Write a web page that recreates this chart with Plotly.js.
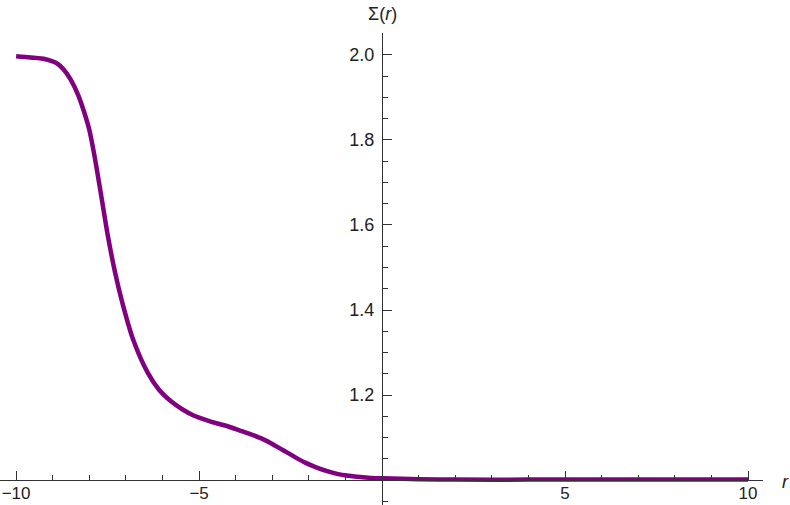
<!DOCTYPE html>
<html>
<head>
<meta charset="utf-8">
<script src="https://cdn.plot.ly/plotly-3.0.1.min.js"></script>
<style>
  body { margin: 0; padding: 0; background: #fff; }
  #plot { width: 790px; height: 505px; }
</style>
</head>
<body>
<div id="plot"></div>
<script>
// values
var r = [-10, -9.6, -9.2, -8.9, -8.7, -8.5, -8.3, -8.15, -8.0, -7.9, -7.8, -7.65,
         -7.5, -7.3, -7.1, -6.8, -6.4, -6.1, -5.75, -5.45, -5.15, -4.8, -4.5,
         -4.2, -3.9, -3.6, -3.3, -3.0, -2.7, -2.4, -2.1, -1.8, -1.5, -1.2,
         -0.9, -0.6, -0.3, 0, 1, 2, 4, 6, 8, 10];
var sigma = [1.997, 1.994, 1.990, 1.981, 1.966, 1.941, 1.905, 1.868, 1.824, 1.782, 1.734, 1.656,
             1.578, 1.490, 1.418, 1.330, 1.252, 1.213, 1.184, 1.166, 1.152, 1.141, 1.133,
             1.126, 1.117, 1.108, 1.098, 1.085, 1.070, 1.055, 1.041, 1.030, 1.021, 1.014,
             1.010, 1.007, 1.005, 1.004, 1.002, 1.001, 1.001, 1.001, 1.001, 1.001];

var xTicks = [-10, -5, 5, 10];
var yTicks = [1.2, 1.4, 1.6, 1.8, 2.0];
var xTickText = ['\u221210', '\u22125', '5', '10'];
var yTickText = ['1.2', '1.4', '1.6', '1.8', '2.0'];

var W = 790, H = 505;
var axisCol = '#333';
var font = {family: 'Liberation Sans, Arial, sans-serif', size: 18, color: '#222'};

var trace = {
    x: r,
    y: sigma,
    type: 'scatter',
    mode: 'lines',
    line: {color: 'rgb(128,0,128)', width: 4.5, shape: 'spline', smoothing: 0.8},
    hoverinfo: 'none'
};

var layout = {
    width: W,
    height: H,
    margin: {l: 0, r: 0, t: 0, b: 0},
    paper_bgcolor: '#fff',
    plot_bgcolor: 'rgba(0,0,0,0)',
    showlegend: false,
    font: font,
    xaxis: {
        domain: [0, 763 / W],
        range: [-10.44, 10.41],
        anchor: 'free',
        position: 25 / H,
        showgrid: false,
        zeroline: false,
        showline: true,
        linecolor: axisCol,
        linewidth: 1,
        ticks: 'inside',
        ticklen: 9,
        tickcolor: axisCol,
        tickmode: 'array',
        tickvals: xTicks,
        ticktext: xTickText,
        tickfont: {size: 17},
        ticklabelstandoff: -2,
        minor: {ticks: 'inside', ticklen: 5, tickcolor: axisCol, tickmode: 'linear', tick0: 0, dtick: 1}
    },
    yaxis: {
        domain: [0, (H - 33) / H],
        range: [0.9413, 2.0516],
        anchor: 'free',
        position: 382 / W,
        side: 'left',
        showgrid: false,
        zeroline: false,
        showline: true,
        linecolor: axisCol,
        linewidth: 1,
        ticks: 'inside',
        ticklen: 9,
        tickcolor: axisCol,
        tickmode: 'array',
        tickvals: yTicks,
        ticktext: yTickText,
        ticklabelstandoff: 4,
        minor: {ticks: 'inside', ticklen: 5, tickcolor: axisCol, tickmode: 'linear', tick0: 1, dtick: 0.05}
    },
    annotations: [
        {text: '<i>r</i>', xref: 'paper', yref: 'paper', x: 785 / W, y: (H - 482) / H,
         xanchor: 'center', yanchor: 'middle', showarrow: false, font: font},
        {text: '\u03a3(<i>r</i>)', xref: 'paper', yref: 'paper', x: 382 / W, y: (H - 14) / H,
         xanchor: 'center', yanchor: 'middle', showarrow: false, font: font}
    ]
};

Plotly.newPlot('plot', [trace], layout, {displayModeBar: false, staticPlot: true});
</script>
</body>
</html>
